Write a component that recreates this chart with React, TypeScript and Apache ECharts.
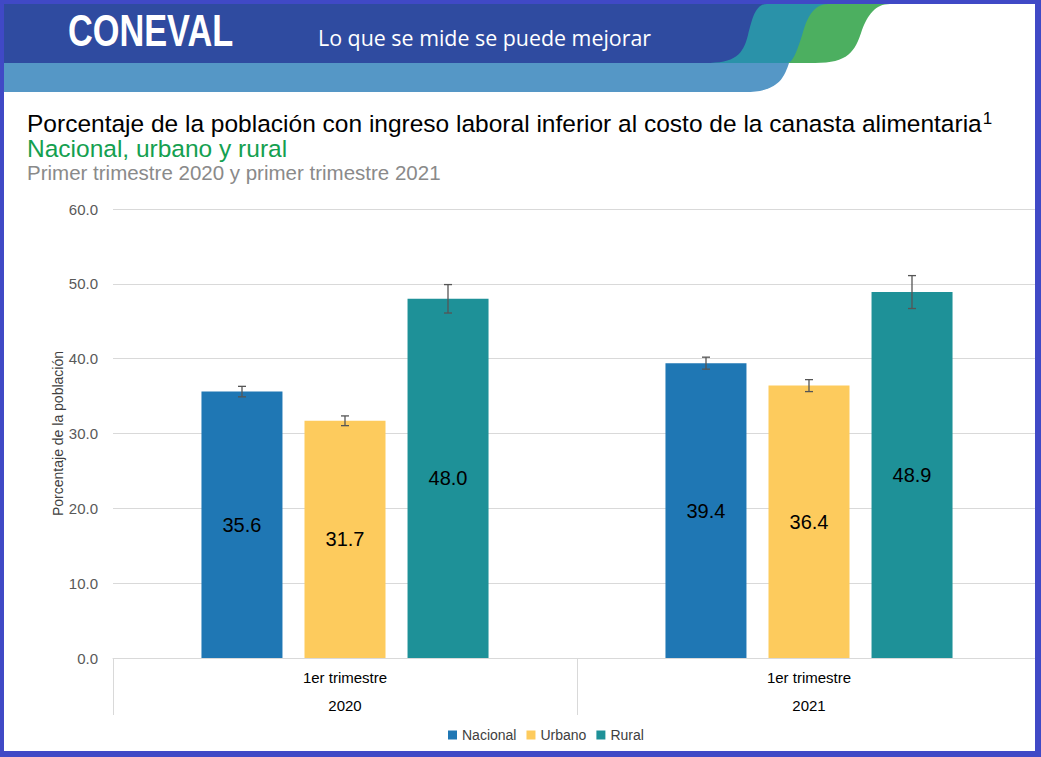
import React, { useEffect, useRef } from "react";
import * as echarts from "echarts";

const categories = ["2020", "2021"];
const quarterLabel = "1er trimestre";
const seriesNames = ["Nacional", "Urbano", "Rural"];
const nacional = [35.6, 39.4];
const urbano = [31.7, 36.4];
const rural = [48.0, 48.9];
const nacionalErr = [0.7, 0.8];
const urbanoErr = [0.65, 0.8];
const ruralErr = [1.9, 2.2];
const yTicks = [0, 10, 20, 30, 40, 50, 60];

const COLORS = ["#1f77b4", "#fdcb5d", "#1e9198"];
const BAR_W = 81;
const BAR_GAP = 22;

const SHAPES: Record<string, string> = {
  hdrGreen: "M 740 4 L 890 4 C 875 4 868 15 862 30 C 855 52 848 63 815 63 L 740 63 Z",
  hdrTeal: "M 700 4 L 828 4 C 815 4 808 15 803 32 C 796 55 792 63 787 63 L 700 63 Z",
  hdrLight: "M 4 63 L 789 63 C 784 78 778 92 745 92 L 4 92 Z",
  hdrDark: "M 4 4 L 767 4 C 755 4 752 20 748 35 C 743 55 735 63 705 63 L 4 63 Z",
};
let registered = false;
function registerShapes() {
  if (registered) return;
  registered = true;
  Object.keys(SHAPES).forEach((k) => {
    echarts.graphic.registerShape(k, echarts.graphic.extendPath(SHAPES[k], {}) as any);
  });
}

export default function App() {
  const ref = useRef<HTMLDivElement>(null);
  useEffect(() => {
    if (!ref.current) return;
    registerShapes();
    const chart = echarts.init(ref.current, null, { renderer: "svg" });
    const values = [nacional, urbano, rural];
    const errs = [nacionalErr, urbanoErr, ruralErr];
    const font = "'Liberation Sans', Arial, sans-serif";

    const barSeries = seriesNames.map((name, i) => ({
      name,
      type: "bar",
      data: values[i],
      barWidth: BAR_W,
      barGap: ((BAR_GAP / BAR_W) * 100).toFixed(1) + "%",
      itemStyle: { color: COLORS[i] },
      label: {
        show: true,
        position: "inside",
        fontSize: 20,
        color: "#000",
        fontFamily: font,
        formatter: (p: any) => Number(p.value).toFixed(1),
      },
      z: 2,
    }));

    const errSeries = seriesNames.map((name, i) => ({
      name: "err-" + name,
      type: "custom",
      z: 5,
      silent: true,
      encode: { x: 0, y: [1, 2] },
      data: values[i].map((v, c) => [c, v - errs[i][c], v + errs[i][c]]),
      renderItem: (params: any, api: any) => {
        const c = api.value(0);
        const lo = api.coord([c, api.value(1)]);
        const hi = api.coord([c, api.value(2)]);
        const cx = lo[0] + (i - 1) * (BAR_W + BAR_GAP);
        const st = { stroke: "#555", lineWidth: 1.3 };
        return {
          type: "group",
          children: [
            { type: "line", shape: { x1: cx, y1: hi[1], x2: cx, y2: lo[1] }, style: st },
            { type: "line", shape: { x1: cx - 4, y1: hi[1], x2: cx + 4, y2: hi[1] }, style: st },
            { type: "line", shape: { x1: cx - 4, y1: lo[1], x2: cx + 4, y2: lo[1] }, style: st },
          ],
        };
      },
    }));

    const graphic: any[] = [
      { type: "hdrGreen", x: 0, y: 0, style: { fill: "#4caf60" }, z: 1 },
      { type: "hdrTeal", x: 0, y: 0, style: { fill: "#2a92a9" }, z: 2 },
      { type: "hdrLight", x: 0, y: 0, style: { fill: "#5597c6" }, z: 3 },
      { type: "hdrDark", x: 0, y: 0, style: { fill: "#2f4ba0" }, z: 4 },
      {
        type: "text",
        x: 68,
        y: 30,
        scaleX: 0.78,
        z: 5,
        style: {
          text: "CONEVAL",
          fill: "#fff",
          fontSize: 44,
          fontWeight: "bold",
          fontFamily: font,
          verticalAlign: "middle",
        },
      },
      {
        type: "text",
        x: 318,
        y: 37,
        z: 5,
        style: {
          text: "Lo que se mide se puede mejorar",
          fill: "#fff",
          fontSize: 21.4,
          fontFamily: "'Open Sans', sans-serif",
          verticalAlign: "middle",
        },
      },
      {
        type: "text",
        x: 27,
        y: 123,
        z: 5,
        style: {
          text: "Porcentaje de la población con ingreso laboral inferior al costo de la canasta alimentaria{sup|1}",
          fill: "#000",
          fontSize: 24.5,
          fontFamily: font,
          verticalAlign: "middle",
          rich: {
            sup: { fontSize: 17, fontFamily: font, fill: "#000", verticalAlign: "top", padding: [0, 0, 10, 1] },
          },
        },
      },
      {
        type: "text",
        x: 27,
        y: 148,
        z: 5,
        style: {
          text: "Nacional, urbano y rural",
          fill: "#14a050",
          fontSize: 24.5,
          fontFamily: font,
          verticalAlign: "middle",
        },
      },
      {
        type: "text",
        x: 27,
        y: 172,
        z: 5,
        style: {
          text: "Primer trimestre 2020 y primer trimestre 2021",
          fill: "#8a8a8a",
          fontSize: 20.5,
          fontFamily: font,
          verticalAlign: "middle",
        },
      },
      { type: "rect", shape: { x: 0, y: 0, width: 4, height: 757 }, style: { fill: "#4049c6" }, z: 10 },
      { type: "rect", shape: { x: 0, y: 0, width: 1041, height: 4 }, style: { fill: "#4049c6" }, z: 10 },
      { type: "rect", shape: { x: 1035, y: 0, width: 6, height: 757 }, style: { fill: "#4049c6" }, z: 10 },
      { type: "rect", shape: { x: 0, y: 751, width: 1041, height: 6 }, style: { fill: "#4049c6" }, z: 10 },
    ];

    chart.setOption({
      animation: false,
      backgroundColor: "#fff",
      textStyle: { fontFamily: font },
      grid: { left: 113, right: 0, top: 209, bottom: 99, containLabel: false },
      legend: {
        data: seriesNames,
        left: 443,
        top: 723,
        icon: "rect",
        itemWidth: 9,
        itemHeight: 9,
        itemGap: 10,
        textStyle: { fontSize: 14, color: "#404040", fontFamily: font },
      },
      xAxis: {
        type: "category",
        data: categories,
        axisLine: { show: true, lineStyle: { color: "#d9d9d9" } },
        axisTick: { show: true, length: 57, interval: 0, lineStyle: { color: "#d9d9d9" } },
        axisLabel: {
          interval: 0,
          margin: 5,
          formatter: (v: string) => `{a|${quarterLabel}}\n{b|${v}}`,
          rich: {
            a: { fontSize: 15, color: "#000", lineHeight: 28, fontFamily: font },
            b: { fontSize: 15, color: "#000", lineHeight: 28, fontFamily: font },
          },
        },
      },
      yAxis: {
        type: "value",
        min: yTicks[0],
        max: yTicks[yTicks.length - 1],
        interval: 10,
        name: "Porcentaje de la población",
        nameLocation: "middle",
        nameGap: 48,
        nameMoveOverlap: false,
        nameTextStyle: { fontSize: 14, color: "#404040", fontFamily: font },
        axisLine: { show: false },
        axisTick: { show: false },
        axisLabel: {
          fontSize: 15,
          color: "#595959",
          margin: 15,
          formatter: (v: number) => v.toFixed(1),
        },
        splitLine: { lineStyle: { color: "#d9d9d9" } },
      },
      graphic,
      series: [...barSeries, ...errSeries],
    } as any);
    return () => chart.dispose();
  }, []);
  return (
    <div
      ref={ref}
      style={{ position: "absolute", left: 0, top: 0, width: 1041, height: 757 }}
    />
  );
}
